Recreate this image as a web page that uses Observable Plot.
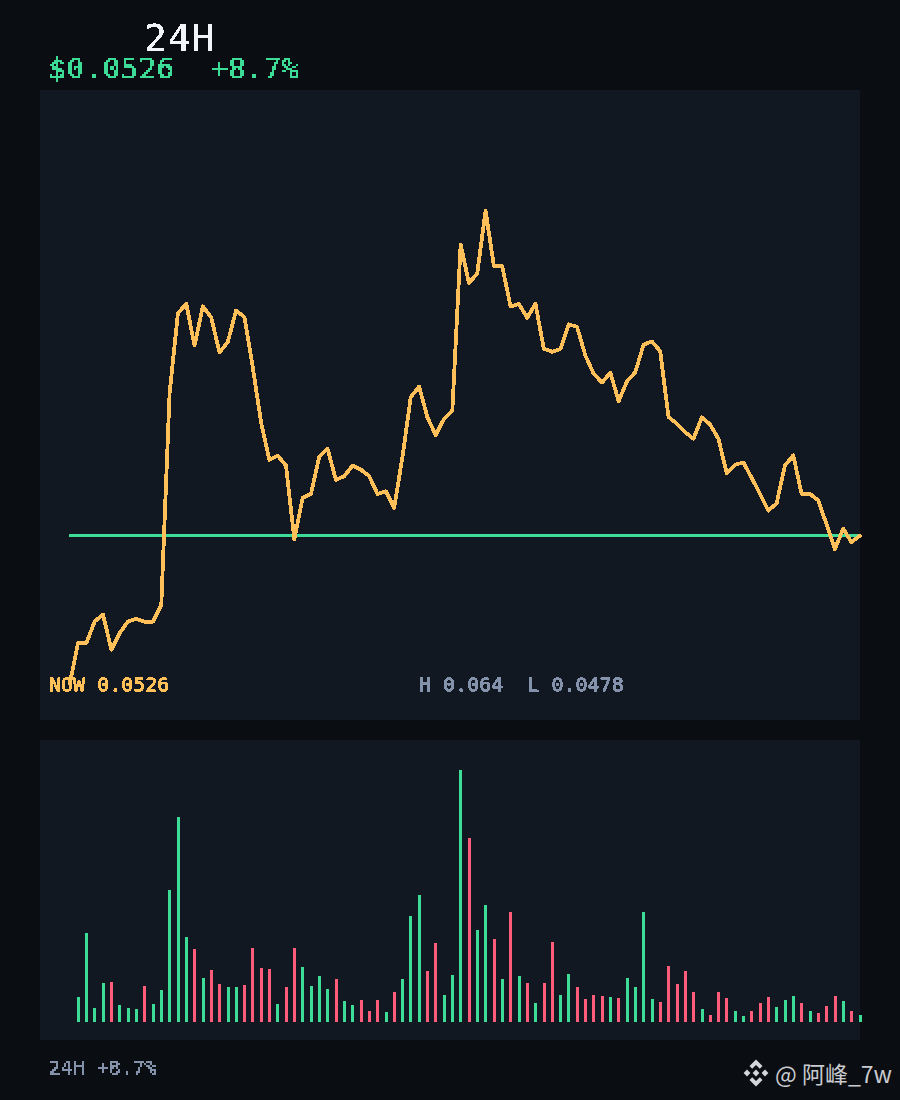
<!DOCTYPE html>
<html>
<head>
<meta charset="utf-8">
<script src="https://cdn.jsdelivr.net/npm/d3@7"></script>
<script src="https://cdn.jsdelivr.net/npm/@observablehq/plot@0.6"></script>
<style>
html,body{margin:0;padding:0;background:#0a0d12;}
#page{position:relative;width:900px;height:1100px;overflow:hidden;background:#0a0d12;}
.t{position:absolute;font-family:"DejaVu Sans Mono",monospace;white-space:pre;line-height:1;}
#title{left:144px;top:19px;font-size:38px;letter-spacing:1px;color:#f2f4f8;filter:url(#crisp);}
#price{left:48px;top:54px;font-size:29px;letter-spacing:0.6px;color:#3ddc97;filter:url(#px2b);}
#change{left:210px;top:54px;font-size:29px;letter-spacing:0.3px;color:#3ddc97;filter:url(#px2b);}
#foot{left:48px;top:1057px;font-size:20px;color:#8492ab;filter:url(#px2c);}
#mark{position:absolute;left:775px;top:1058px;font-family:"Noto Sans CJK SC","Noto Sans",sans-serif;font-size:23px;line-height:30px;color:#c9cbcf;white-space:pre;}
#logo{position:absolute;left:742px;top:1059px;width:28px;height:28px;}
#top,#bot{position:absolute;left:40px;}
#top{top:90px;}
#bot{top:740px;}
#top svg,#bot svg{display:block;overflow:visible;background:#111821;shape-rendering:crispEdges;}
#top svg text{filter:url(#px2);}
</style>
</head>
<body>
<div id="page">
  <svg width="0" height="0" style="position:absolute">
    <defs>
      <filter id="crisp" x="0" y="0" width="100%" height="100%" color-interpolation-filters="sRGB">
        <feComponentTransfer><feFuncA type="discrete" tableValues="0 0 1 1 1 1"/></feComponentTransfer>
      </filter>
      <filter id="px2" x="0" y="0" width="100%" height="100%" color-interpolation-filters="sRGB">
        <feFlood x="0" y="0" width="1" height="1" flood-color="#000"/>
        <feComposite width="2" height="2"/>
        <feTile result="grid"/>
        <feComposite in="SourceGraphic" in2="grid" operator="in" result="a"/>
        <feOffset in="a" dx="1" dy="0" result="b"/>
        <feMerge result="c"><feMergeNode in="a"/><feMergeNode in="b"/></feMerge>
        <feOffset in="c" dx="0" dy="1" result="d"/>
        <feMerge result="e"><feMergeNode in="c"/><feMergeNode in="d"/></feMerge>
        <feComponentTransfer><feFuncA type="discrete" tableValues="0 0 0 1"/></feComponentTransfer>
      </filter>
      <filter id="px2b" x="0" y="0" width="100%" height="100%" color-interpolation-filters="sRGB">
        <feFlood x="0" y="0" width="1" height="1" flood-color="#000"/>
        <feComposite width="2" height="2"/>
        <feTile result="grid"/>
        <feComposite in="SourceGraphic" in2="grid" operator="in" result="a"/>
        <feOffset in="a" dx="1" dy="0" result="b"/>
        <feMerge result="c"><feMergeNode in="a"/><feMergeNode in="b"/></feMerge>
        <feOffset in="c" dx="0" dy="1" result="d"/>
        <feMerge result="e"><feMergeNode in="c"/><feMergeNode in="d"/></feMerge>
        <feComponentTransfer><feFuncA type="discrete" tableValues="0 1 1 1 1 1"/></feComponentTransfer>
      </filter>
      <filter id="px2c" x="0" y="0" width="100%" height="100%" color-interpolation-filters="sRGB">
        <feFlood x="0" y="0" width="1" height="1" flood-color="#000"/>
        <feComposite width="2" height="2"/>
        <feTile result="grid"/>
        <feComposite in="SourceGraphic" in2="grid" operator="in" result="a"/>
        <feOffset in="a" dx="1" dy="0" result="b"/>
        <feMerge result="c"><feMergeNode in="a"/><feMergeNode in="b"/></feMerge>
        <feOffset in="c" dx="0" dy="1" result="d"/>
        <feMerge result="e"><feMergeNode in="c"/><feMergeNode in="d"/></feMerge>
        <feComponentTransfer><feFuncA type="discrete" tableValues="0 0 1 1 1 1"/></feComponentTransfer>
      </filter>
    </defs>
  </svg>
  <div class="t" id="title">24H</div>
  <div class="t" id="price">$0.0526</div>
  <div class="t" id="change">+8.7%</div>
  <div id="top"></div>
  <div id="bot"></div>
  <div class="t" id="foot">24H +8.7%</div>
  <svg id="logo" viewBox="0 0 28 28" fill="#d4d6da" aria-hidden="true">
    <path d="M14 0.5 L20.5 7 L17.8 9.7 L14 5.9 L10.2 9.7 L7.5 7 Z"/>
    <path d="M14 27.5 L20.5 21 L17.8 18.3 L14 22.1 L10.2 18.3 L7.5 21 Z"/>
    <path d="M14 10.6 L17.4 14 L14 17.4 L10.6 14 Z"/>
    <path d="M5 10.6 L8.4 14 L5 17.4 L1.6 14 Z"/>
    <path d="M23 10.6 L26.4 14 L23 17.4 L19.6 14 Z"/>
  </svg>
  <div id="mark">@ 阿峰_7w</div>
</div>
<script>
const prices = [
  0.04742,0.04885,0.04885,0.04960,0.04984,0.04861,0.04919,0.04960,0.04969,0.04959,
  0.04959,0.05017,0.05759,0.06039,0.06074,0.05927,0.06064,0.06026,0.05903,0.05939,
  0.06050,0.06026,0.05851,0.05658,0.05526,0.05541,0.05506,0.05248,0.05393,0.05407,
  0.05538,0.05565,0.05456,0.05469,0.05506,0.05492,0.05469,0.05407,0.05416,0.05358,
  0.05535,0.05746,0.05783,0.05676,0.05613,0.05670,0.05699,0.06281,0.06145,0.06180,
  0.06400,0.06205,0.06205,0.06064,0.06072,0.06024,0.06073,0.05916,0.05905,0.05915,
  0.06001,0.05992,0.05892,0.05828,0.05797,0.05832,0.05732,0.05801,0.05833,0.05930,
  0.05941,0.05907,0.05676,0.05653,0.05623,0.05600,0.05675,0.05650,0.05600,0.05479,
  0.05509,0.05517,0.05463,0.05407,0.05348,0.05374,0.05506,0.05542,0.05407,0.05407,
  0.05384,0.05300,0.05213,0.05285,0.05238,0.05260
];
const volumes = [
  25,89,14,39,40,17,14,13,36,18,32,132,205,85,73,44,52,38,35,35,37,74,54,53,18,35,74,55,36,46,33,
  43,21,17,22,11,22,10,30,43,106,127,51,79,27,47,252,184,92,117,83,43,110,46,39,19,39,80,27,48,35,23,27,26,
  25,24,44,35,110,23,20,56,38,51,30,13,7,30,24,11,6,11,19,25,15,22,26,19,11,9,16,26,21,11,7
];
const volumeUp = [
  1,1,1,1,0,1,1,1,0,1,1,1,1,1,0,1,0,0,1,1,0,0,0,0,1,0,0,1,1,1,1,
  0,1,1,0,0,0,1,0,1,1,1,0,0,1,1,1,0,1,1,0,1,0,1,0,1,0,0,1,1,0,0,0,0,
  1,0,1,1,1,1,0,0,0,0,0,1,0,0,0,1,1,0,0,0,1,1,1,0,1,0,0,0,1,0,1
];
const nowPrice = 0.0526;
const nowLabel = "NOW 0.0526";
const rangeLabel = "H 0.064  L 0.0478";

const GREEN = "#3ddc97", RED = "#ff5c7a", AMBER = "#ffc05a", GREY = "#8492ab";

const topChart = Plot.plot({
  width: 820, height: 630,
  marginTop: 0, marginRight: 0, marginBottom: 0, marginLeft: 0,
  x: {axis: null, domain: [0, 95], range: [29.3, 819.3]},
  y: {axis: null, domain: [0.0526, 0.064], range: [445.3, 120]},
  marks: [
    Plot.ruleY([nowPrice], {x1: 0, x2: 95, stroke: GREEN, strokeWidth: 3}),
    Plot.line(prices, {x: (d, i) => i, y: d => d, stroke: AMBER, strokeWidth: 3.8, curve: "linear"}),
    Plot.text([nowLabel], {frameAnchor: "bottom-left", dx: 8, dy: -30, fill: AMBER, fontFamily: "DejaVu Sans Mono", fontSize: 20, textAnchor: "start"}),
    Plot.text([rangeLabel], {frameAnchor: "bottom-left", dx: 378, dy: -30, fill: GREY, fontFamily: "DejaVu Sans Mono", fontSize: 20, textAnchor: "start"})
  ]
});
document.getElementById("top").append(topChart);

const botChart = Plot.plot({
  width: 820, height: 300,
  marginTop: 0, marginRight: 0, marginBottom: 0, marginLeft: 0,
  x: {axis: null, domain: [0, 95], range: [29.53, 819.53]},
  y: {axis: null, domain: [0, 252], range: [282, 30]},
  color: {domain: [1, 0], range: [GREEN, RED]},
  marks: [
    Plot.ruleX(volumes, {x: (d, i) => i + 1, y1: 0, y2: d => d, stroke: (d, i) => volumeUp[i], strokeWidth: 3})
  ]
});
document.getElementById("bot").append(botChart);
</script>
</body>
</html>
